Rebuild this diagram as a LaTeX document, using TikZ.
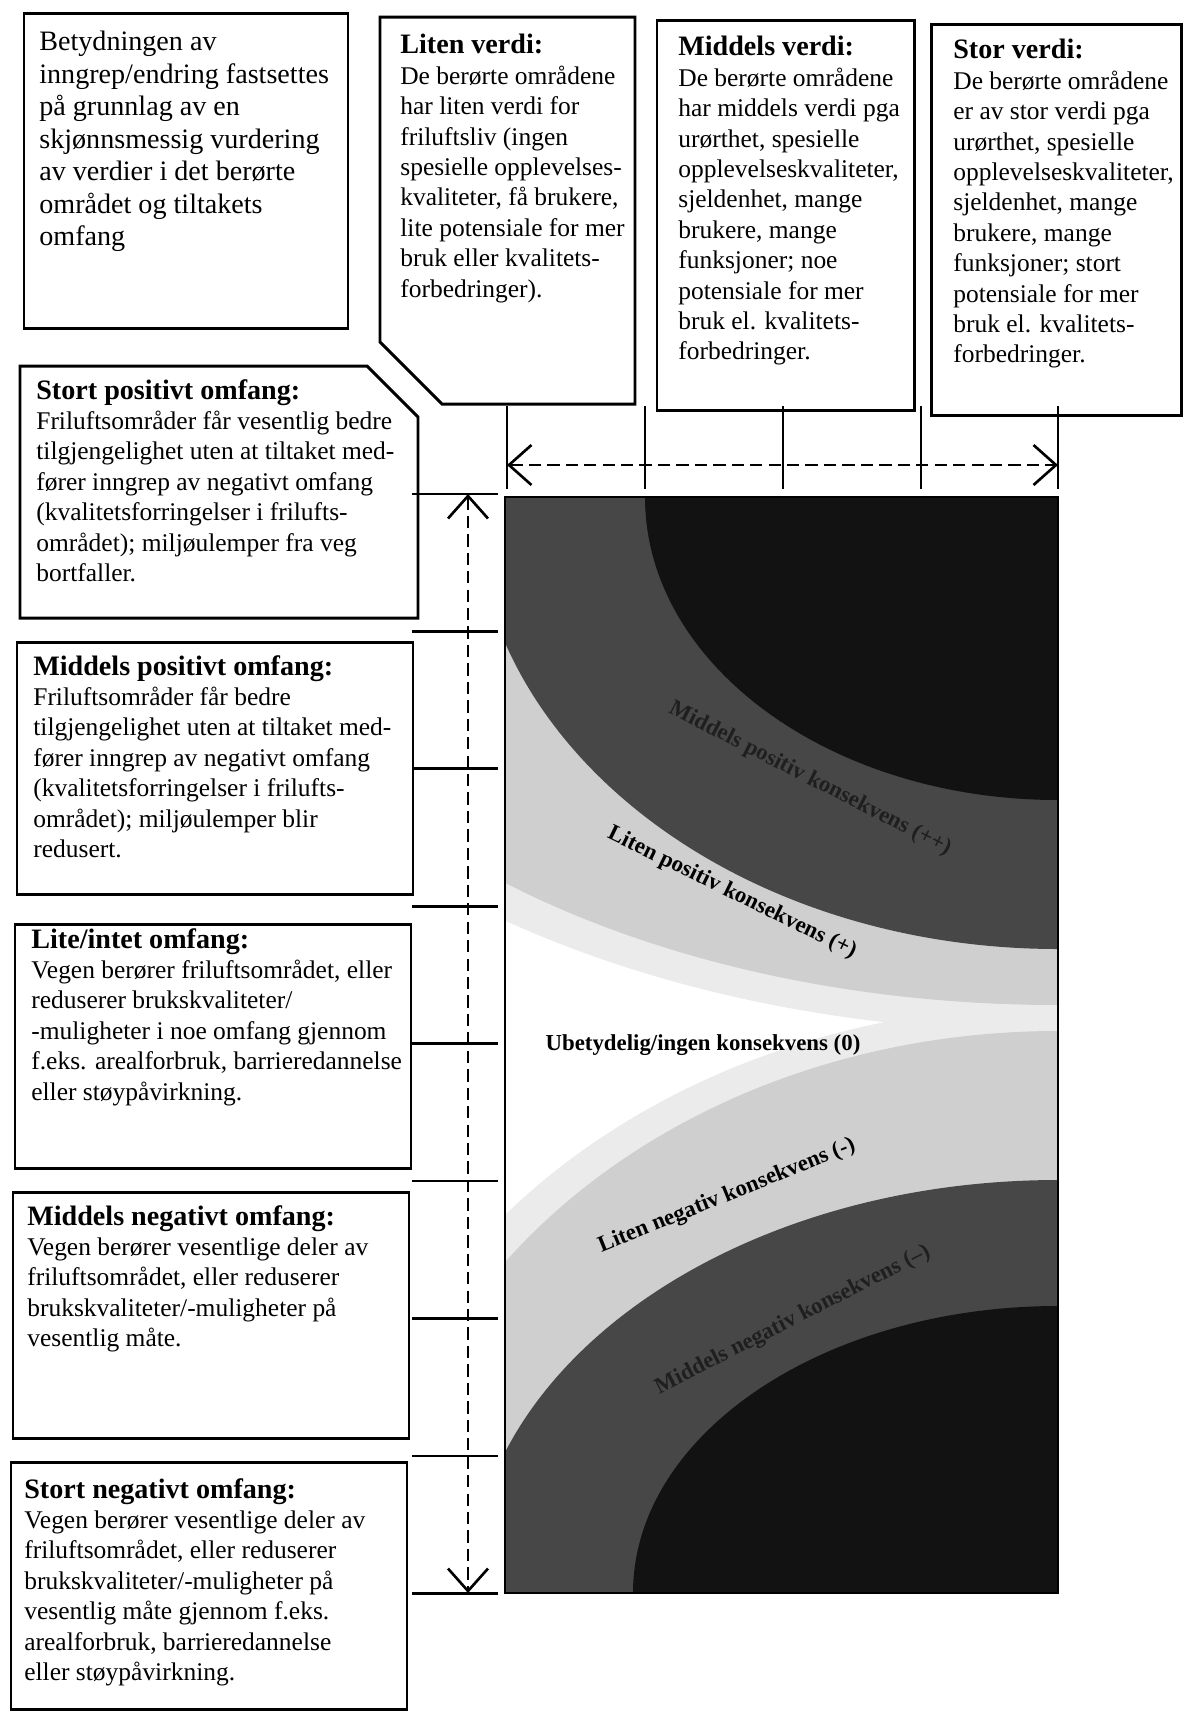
\documentclass[tikz,border=0pt]{standalone}
\usepackage{fontspec}
\setmainfont{Liberation Serif}
\usepackage{tikz}
\usetikzlibrary{arrows.meta}

\newcommand{\boxhead}[1]{{\fontsize{16}{17.3}\selectfont\bfseries #1}}

\begin{document}
\begin{tikzpicture}[x=0.02cm,y=-0.02cm,black,
    frame/.style={draw=black,line width=1.7pt,line join=miter},
    body/.style={anchor=north west,align=left,inner sep=0pt,
        font=\fontsize{14.5}{17.3}\selectfont},
    fanlabel/.style={inner sep=0pt,font=\fontsize{13}{15}\selectfont\bfseries},
    tick/.style={line width=1.5pt},
    scale arrow/.style={line width=1.3pt,dash pattern=on 7pt off 3.5pt,
        {Straight Barb[length=0.45cm,width=0.8cm,line width=1.5pt]}-{Straight Barb[length=0.45cm,width=0.8cm,line width=1.5pt]}},
    haze/.style={fill=black!8},
    lightband/.style={fill=black!19},
    darkband/.style={fill=black!72},
    blackband/.style={fill=black!93}]

            % Coordinates
            \coordinate (chartnw) at (505,497);
            \coordinate (chartse) at (1058,1593);
            \coordinate (topcorner) at (1058,497);
            \coordinate (botcorner) at (1058,1593);
            \coordinate (valueL) at (507,465);
            \coordinate (valueR) at (1058,465);
            \coordinate (extentT) at (468,494);
            \coordinate (extentB) at (468,1593);

            % Page
            \fill[white] (0,0) rectangle (1183,1715);
            \useasboundingbox (0,0) rectangle (1183,1715);

            % Fan
            \begin{scope}
                \clip (chartnw) rectangle (chartse);
                \fill[haze] (topcorner) ellipse [x radius=905, y radius=535];
                \fill[lightband] (topcorner) ellipse [x radius=850, y radius=508];
                \fill[darkband] (topcorner) ellipse [x radius=584, y radius=452];
                \fill[blackband] (topcorner) ellipse [x radius=413, y radius=303];
                \fill[haze] (botcorner) ellipse [x radius=722, y radius=588];
                \fill[lightband] (botcorner) ellipse [x radius=684, y radius=562];
                \fill[darkband] (botcorner) ellipse [x radius=588, y radius=413];
                \fill[blackband] (botcorner) ellipse [x radius=425, y radius=287];
            \end{scope}
            \draw[line width=1pt] (chartnw) rectangle (chartse);

            \node[fanlabel,text=black!88,rotate=-27] (midpos) at (810,779) {Middels positiv konsekvens (++)};
            \node[fanlabel,rotate=-26] (smallpos) at (732,893) {Liten positiv konsekvens (+)};
            \node[fanlabel] (neutral) at (703,1045) {Ubetydelig/ingen konsekvens (0)};
            \node[fanlabel,rotate=22] (smallneg) at (727,1196) {Liten negativ konsekvens (-)};
            \node[fanlabel,text=black!88,rotate=27] (midneg) at (793,1320) {Middels negativ konsekvens (--)};

            % Top boxes
            \draw[frame] (24,13) rectangle (348,328);
            \draw[frame] (380,17) -- (635,17) -- (635,404) -- (442,404) -- (380,342) -- cycle;
            \draw[frame] (657,20) rectangle (914,410);
            \draw[frame] (931,24) rectangle (1181,415);

            \node[body,font=\fontsize{16}{18.5}\selectfont] (betydning) at (39,31) {Betydningen av\\inngrep/endring fastsettes\\på grunnlag av en\\skjønnsmessig vurdering\\av verdier i det berørte\\området og tiltakets\\omfang};
            \node[body] (litenverdi) at (400,34) {\boxhead{Liten verdi:}\\De berørte områdene\\har liten verdi for\\friluftsliv (ingen\\spesielle opplevelses-\\kvaliteter, få brukere,\\lite potensiale for mer\\bruk eller kvalitets-\\forbedringer).};
            \node[body] (middelsverdi) at (678,36) {\boxhead{Middels verdi:}\\De berørte områdene\\har middels verdi pga\\urørthet, spesielle\\opplevelseskvaliteter,\\sjeldenhet, mange\\brukere, mange\\funksjoner; noe\\potensiale for mer\\bruk el. kvalitets-\\forbedringer.};
            \node[body] (storverdi) at (953,39) {\boxhead{Stor verdi:}\\De berørte områdene\\er av stor verdi pga\\urørthet, spesielle\\opplevelseskvaliteter,\\sjeldenhet, mange\\brukere, mange\\funksjoner; stort\\potensiale for mer\\bruk el. kvalitets-\\forbedringer.};

            % Left boxes
            \draw[frame] (20,366) -- (367,366) -- (418,417) -- (418,618) -- (20,618) -- cycle;
            \draw[frame] (17,642) rectangle (413,894);
            \draw[frame] (15,924) rectangle (411,1168);
            \draw[frame] (13,1192) rectangle (409,1438);
            \draw[frame] (11,1462) rectangle (407,1709);

            \node[body] (stortpos) at (36,379) {\boxhead{Stort positivt omfang:}\\Friluftsområder får vesentlig bedre\\tilgjengelighet uten at tiltaket med-\\fører inngrep av negativt omfang\\(kvalitetsforringelser i frilufts-\\området); miljøulemper fra veg\\bortfaller.};
            \node[body] (middelspos) at (33,655) {\boxhead{Middels positivt omfang:}\\Friluftsområder får bedre\\tilgjengelighet uten at tiltaket med-\\fører inngrep av negativt omfang\\(kvalitetsforringelser i frilufts-\\området); miljøulemper blir\\redusert.};
            \node[body] (liteintet) at (31,928) {\boxhead{Lite/intet omfang:}\\Vegen berører friluftsområdet, eller\\reduserer brukskvaliteter/\\-muligheter i noe omfang gjennom\\f.eks. arealforbruk, barrieredannelse\\eller støypåvirkning.};
            \node[body] (middelsneg) at (27,1205) {\boxhead{Middels negativt omfang:}\\Vegen berører vesentlige deler av\\friluftsområdet, eller reduserer\\brukskvaliteter/-muligheter på\\vesentlig måte.};
            \node[body] (stortneg) at (24,1478) {\boxhead{Stort negativt omfang:}\\Vegen berører vesentlige deler av\\friluftsområdet, eller reduserer\\brukskvaliteter/-muligheter på\\vesentlig måte gjennom f.eks.\\arealforbruk, barrieredannelse\\eller støypåvirkning.};

            % Scale ticks
            \foreach \x in {507,645,783,921,1058}
                \draw[tick] (\x,406) -- (\x,489);
            \foreach \k in {0,...,8}
                \draw[tick] (412,494+137.4*\k) -- (498,494+137.4*\k);

            % Arrows
            \draw[scale arrow] (valueL) -- (valueR);
            \draw[scale arrow] (extentT) -- (extentB);

\end{tikzpicture}
\end{document}
